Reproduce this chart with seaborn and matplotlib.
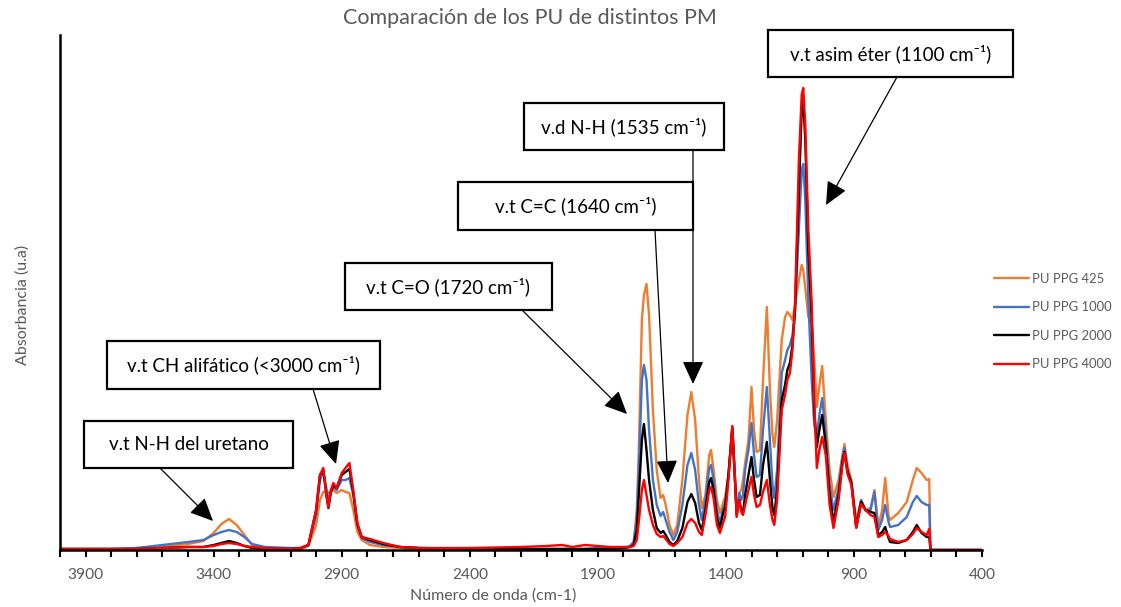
import matplotlib
matplotlib.use("Agg")
import matplotlib.pyplot as plt
import seaborn as sns
import pandas as pd
from matplotlib.patches import Rectangle, FancyArrowPatch

# ---------------- data (arbitrary units) ----------------
wavenumber = [4000, 3800, 3700, 3600, 3500, 3440, 3400, 3370, 3340, 3310, 3280, 3250, 3200, 3100,
              3060, 3030, 3000, 2985, 2972, 2960, 2952, 2942, 2933, 2920, 2900, 2885, 2870, 2855,
              2839, 2822, 2790, 2738, 2672, 2600, 2400, 2200, 2100, 2040, 2000, 1950, 1900, 1850,
              1800, 1775, 1760, 1748, 1740, 1728, 1720, 1710, 1700, 1685, 1670, 1655, 1645, 1635,
              1620, 1605, 1590, 1570, 1550, 1535, 1520, 1505, 1494, 1480, 1465, 1458, 1448, 1435,
              1423, 1410, 1403, 1390, 1375, 1365, 1358, 1348, 1340, 1333, 1325, 1312, 1300, 1290,
              1280, 1267, 1255, 1240, 1228, 1218, 1211, 1200, 1182, 1169, 1160, 1150, 1140, 1130,
              1115, 1104, 1098, 1090, 1078, 1065, 1055, 1045, 1035, 1024, 1010, 995, 980, 960,
              945, 937, 925, 910, 891, 872, 855, 835, 820, 805, 790, 778, 765, 759,
              727, 694, 670, 655, 636, 616, 606, 601, 400]

pu_ppg_425 = [1, 1, 2, 3, 6, 9, 17, 26, 31, 25, 15, 5, 2, 1,
              1, 4, 25, 50, 58, 58, 57, 60, 60, 57, 60, 58, 57, 40,
              18, 10, 5, 3, 2, 1, 0, 0, 1, 1, 1, 1, 1, 1,
              2, 3, 8, 40, 100, 230, 255, 266, 235, 140, 80, 52, 55, 45,
              25, 15, 25, 70, 135, 158, 130, 70, 42, 55, 95, 100, 80, 50,
              37, 48, 53, 75, 120, 70, 40, 57, 60, 70, 87, 110, 163, 120,
              98, 100, 170, 243, 160, 115, 103, 130, 210, 233, 238, 235, 230, 245,
              270, 285, 280, 262, 233, 227, 190, 143, 165, 184, 130, 80, 53, 70,
              95, 106, 85, 70, 30, 50, 40, 42, 60, 23, 40, 72, 35, 30,
              37, 48, 70, 82, 77, 70, 71, 0, 0]

pu_ppg_1000 = [1, 1, 2, 5, 8, 10, 15, 18, 20, 18, 13, 6, 3, 2,
               2, 5, 35, 70, 78, 62, 50, 58, 63, 60, 70, 70, 72, 55,
               25, 12, 8, 5, 3, 2, 1, 1, 1, 1, 1, 1, 2, 2,
               2, 4, 8, 30, 80, 170, 185, 170, 120, 70, 45, 34, 38, 30,
               18, 10, 18, 45, 85, 97, 80, 45, 30, 50, 82, 85, 70, 40,
               27, 42, 47, 75, 122, 72, 38, 57, 50, 55, 80, 100, 127, 95,
               73, 75, 120, 163, 110, 65, 52, 80, 177, 190, 200, 205, 215, 240,
               320, 380, 386, 350, 250, 170, 125, 113, 135, 152, 115, 65, 40, 62,
               92, 102, 80, 68, 23, 50, 40, 40, 58, 20, 30, 45, 28, 23,
               25, 33, 48, 54, 48, 45, 45, 0, 0]

pu_ppg_2000 = [1, 1, 1, 2, 3, 3, 5, 7, 9, 7, 4, 2, 1, 1,
               2, 5, 40, 75, 80, 55, 42, 58, 65, 62, 75, 78, 81, 58,
               26, 13, 10, 6, 3, 2, 1, 1, 1, 1, 1, 1, 1, 1,
               2, 3, 5, 20, 55, 110, 126, 100, 70, 40, 22, 17, 19, 15,
               8, 5, 9, 22, 48, 56, 47, 27, 20, 40, 68, 72, 60, 32,
               22, 38, 43, 75, 123, 74, 35, 50, 40, 37, 55, 75, 93, 70,
               53, 55, 85, 108, 70, 42, 35, 60, 150, 165, 180, 187, 205, 240,
               360, 440, 450, 410, 300, 230, 140, 103, 120, 135, 105, 55, 28, 55,
               88, 98, 78, 67, 23, 48, 40, 38, 37, 15, 18, 23, 12, 8,
               7, 10, 18, 25, 17, 13, 13, 0, 0]

pu_ppg_4000 = [1, 1, 1, 2, 3, 3, 4, 6, 7, 6, 4, 3, 2, 1,
               2, 5, 40, 75, 82, 55, 43, 60, 67, 62, 77, 82, 87, 60,
               27, 13, 11, 7, 3, 2, 2, 3, 4, 5, 3, 5, 4, 3,
               3, 3, 4, 10, 28, 60, 70, 55, 40, 25, 16, 13, 14, 11,
               6, 4, 7, 13, 27, 31, 27, 18, 15, 35, 60, 63, 52, 25,
               17, 28, 33, 70, 124, 74, 33, 50, 38, 35, 45, 60, 73, 55,
               43, 45, 58, 70, 45, 30, 25, 50, 140, 155, 170, 177, 200, 247,
               390, 455, 462, 425, 320, 247, 150, 82, 100, 113, 95, 45, 22, 50,
               85, 97, 76, 65, 22, 46, 40, 35, 33, 13, 15, 18, 14, 11,
               8, 10, 16, 22, 18, 15, 21, 0, 0]

series_names = ["PU PPG 425", "PU PPG 1000", "PU PPG 2000", "PU PPG 4000"]
series_colors = ["#ED7D31", "#4472C4", "#000000", "#FF0000"]

x_ticks = [3900, 3400, 2900, 2400, 1900, 1400, 900, 400]
title = "Comparación de los PU de distintos PM"
x_label = "Número de onda (cm-1)"
y_label = "Absorbancia (u.a)"

annotations = [
    # text, box (x0, y0, x1, y1) in px, arrow start, arrow tip
    ("v.t asim éter (1100 cm⁻¹)", (768, 30, 1013, 77), (897, 77), (826, 205)),
    ("v.d N-H (1535 cm⁻¹)", (524, 103, 724, 150), (693, 150), (693, 384)),
    ("v.t C=C (1640 cm⁻¹)", (458, 182, 693, 230), (655, 230), (668, 483)),
    ("v.t C=O (1720 cm⁻¹)", (345, 263, 552, 310), (522, 310), (627, 414)),
    ("v.t CH alifático (<3000 cm⁻¹)", (107, 341, 380, 389), (313, 389), (336, 464)),
    ("v.t N-H del uretano", (84, 421, 293, 468), (160, 468), (213, 521)),
]

# ---------------- build table ----------------
frames = []
for name, vals in zip(series_names, [pu_ppg_425, pu_ppg_1000, pu_ppg_2000, pu_ppg_4000]):
    frames.append(pd.DataFrame({"wavenumber": wavenumber, "absorbance": vals, "serie": name}))
df = pd.concat(frames, ignore_index=True)

W, H = 1121, 607
sns.set_theme(style="white")
plt.rcParams["font.family"] = ["Lato", "DejaVu Sans"]
gray = "#595959"

fig = plt.figure(figsize=(W / 100, H / 100), dpi=100)
ax = fig.add_axes([60 / W, 1 - 550 / H, (982 - 60) / W, (550 - 35) / H])

for name, col in zip(series_names, series_colors):
    sub = df[df["serie"] == name]
    sns.lineplot(data=sub, x="wavenumber", y="absorbance", color=col, linewidth=1.7,
                 ax=ax, label=name, sort=False, estimator=None)

ax.set_xlim(4000, 400)
ax.set_ylim(0, 515)
ax.set_xticks(x_ticks)
ax.set_xticks(list(range(4000, 399, -100)), minor=True)
ax.set_xticklabels([str(t) for t in x_ticks], color=gray, fontsize=11.2)
ax.set_yticks([])
ax.tick_params(axis="x", which="both", direction="out", length=5, width=1.5, color="black",
               bottom=True, pad=8)
for s in ["top", "right"]:
    ax.spines[s].set_visible(False)
for s in ["left", "bottom"]:
    ax.spines[s].set_color("black")
    ax.spines[s].set_linewidth(1.8)
ax.set_xlabel(x_label, color=gray, fontsize=11.5)
ax.set_ylabel(y_label, color=gray, fontsize=11.5)
ax.xaxis.set_label_coords((493 - 60) / (982 - 60), -(588 - 550) / (550 - 35))
ax.yaxis.set_label_coords(-(60 - 30) / (982 - 60), (550 - 305) / (550 - 35))

leg = ax.legend(loc="upper left", bbox_to_anchor=(994 / W, 1 - 273 / H),
                bbox_transform=fig.transFigure, frameon=False, fontsize=9.4,
                handlelength=2.7, labelspacing=1.26, borderpad=0, borderaxespad=0,
                handletextpad=0.2)
for t in leg.get_texts():
    t.set_color(gray)

fig.text(530 / W, 1 - 18 / H, title, ha="center", va="center", color=gray, fontsize=15.5)

# overlay in pixel coordinates for text boxes and arrows
ov = fig.add_axes([0, 0, 1, 1], facecolor="none")
ov.set_xlim(0, W)
ov.set_ylim(H, 0)
ov.axis("off")
for text, (x0, y0, x1, y1), start, tip in annotations:
    ov.add_patch(Rectangle((x0, y0), x1 - x0, y1 - y0, facecolor="white",
                           edgecolor="black", linewidth=1.6, zorder=3))
    ov.text((x0 + x1) / 2, (y0 + y1) / 2, text, ha="center", va="center",
            fontsize=13.5, color="black", zorder=4)
    ov.add_patch(FancyArrowPatch(start, tip, arrowstyle="-|>,head_length=1.3,head_width=0.6",
                                 mutation_scale=11, color="black", linewidth=0.9,
                                 shrinkA=0, shrinkB=0, zorder=4))

fig.savefig("out.png", dpi=100)
